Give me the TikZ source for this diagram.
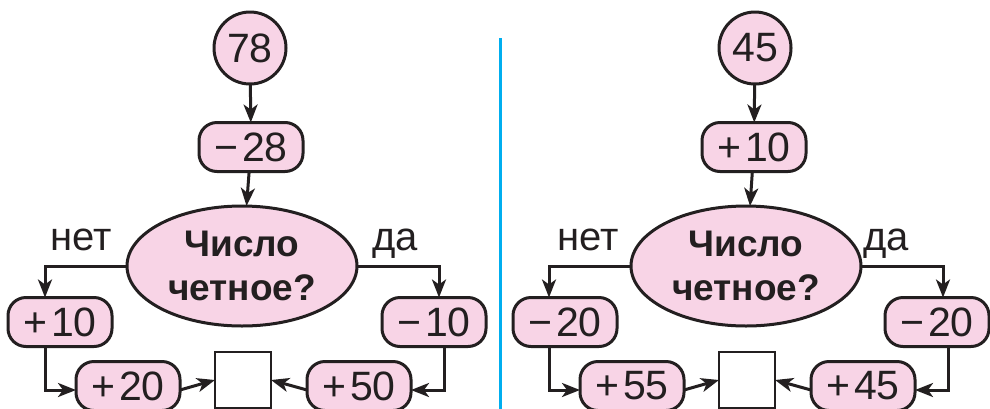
\documentclass[tikz,border=0pt]{standalone}
\usepackage{fontspec}
\setmainfont{Liberation Sans}
\usetikzlibrary{shapes.geometric,arrows.meta}
\definecolor{pinkf}{HTML}{F8D4E6}
\definecolor{inkc}{HTML}{231F20}
\definecolor{bluel}{HTML}{00AEEF}
\begin{document}
\begin{tikzpicture}[x=1pt,y=-1pt,
  every node/.style={inner sep=0pt,outer sep=0pt,text=inkc},
  txt/.style={font=\fontsize{41}{44}\selectfont},
  startc/.style={circle,draw=inkc,line width=3pt,fill=pinkf,minimum size=72pt,txt},
  opbox/.style={rounded corners=18pt,draw=inkc,line width=3pt,fill=pinkf,minimum width=104pt,minimum height=49pt,txt},
  decide/.style={ellipse,draw=inkc,line width=3pt,fill=pinkf,minimum width=230pt,minimum height=120pt,align=center,font=\bfseries\fontsize{37}{44}\selectfont},
  resbox/.style={draw=inkc,line width=2.6pt,fill=white,minimum width=56pt,minimum height=56pt},
  lbl/.style={anchor=base,font=\fontsize{40}{44}\selectfont},
  conn/.style={draw=inkc,line width=3pt,-{Stealth[length=18pt,width=14pt,inset=5pt]}}
]
\useasboundingbox (0,0) rectangle (990,408);
% divider
\draw[bluel,line width=3pt] (500,38) coordinate (dtop) -- (500,410) coordinate (dbot);

% ---------- left diagram ----------
\node[startc] (c1) at (250,48) {78};
\node[opbox] (b1) at (251,147) {−\hspace{4pt}28};
\node[decide] (e1) at (242,266) {Число\\четное?};
\node[lbl] (n1) at (81,250) {нет};
\node[lbl] (d1) at (395,250) {да};
\node[opbox] (l1) at (60,322) {+\hspace{4pt}10};
\node[opbox] (r1) at (434,322) {−\hspace{4pt}10};
\node[opbox] (p1) at (128,386) {+\hspace{4pt}20};
\node[resbox] (s1) at (243,380) {};
\node[opbox] (q1) at (359,386) {+\hspace{4pt}50};
\draw[conn] (c1) -- (b1);
\draw[conn] (b1) -- (e1);
\draw[conn] (e1.west) -| ([xshift=-15pt]l1.north);
\draw[conn] (e1.east) -| ([xshift=5pt]r1.north);
\draw[conn] ([xshift=-15pt]l1.south) |- ([yshift=-4pt]p1.west);
\draw[conn] ([yshift=-4pt]p1.east) -- (s1.west);
\draw[conn] ([xshift=10pt]r1.south) |- ([yshift=-4pt]q1.east);
\draw[conn] ([yshift=-4pt]q1.west) -- (s1.east);

% ---------- right diagram ----------
\node[startc] (c2) at (755,48) {45};
\node[opbox] (b2) at (754,147) {+\hspace{4pt}10};
\node[decide] (e2) at (746,266) {Число\\четное?};
\node[lbl] (n2) at (588,250) {нет};
\node[lbl] (d2) at (886,250) {да};
\node[opbox] (l2) at (565,322) {−\hspace{4pt}20};
\node[opbox] (r2) at (937,322) {−\hspace{4pt}20};
\node[opbox] (p2) at (632,386) {+\hspace{4pt}55};
\node[resbox] (s2) at (747,380) {};
\node[opbox] (q2) at (863,386) {+\hspace{4pt}45};
\draw[conn] (c2) -- (b2);
\draw[conn] (b2) -- (e2);
\draw[conn] (e2.west) -| ([xshift=-16pt]l2.north);
\draw[conn] (e2.east) -| ([xshift=6pt]r2.north);
\draw[conn] ([xshift=-16pt]l2.south) |- ([yshift=-4pt]p2.west);
\draw[conn] ([yshift=-4pt]p2.east) -- (s2.west);
\draw[conn] ([xshift=11pt]r2.south) |- ([yshift=-4pt]q2.east);
\draw[conn] ([yshift=-4pt]q2.west) -- (s2.east);
\end{tikzpicture}
\end{document}
